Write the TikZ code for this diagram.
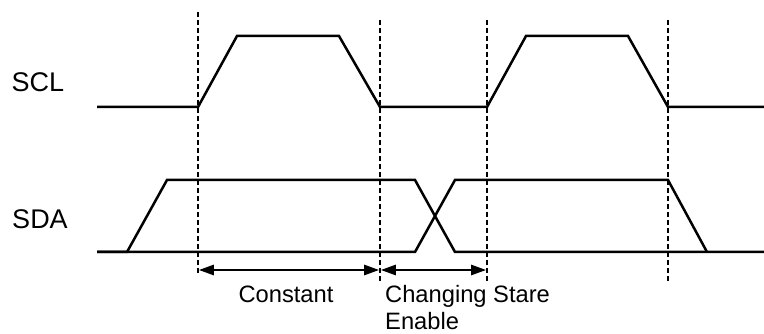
\documentclass[tikz,border=0pt]{standalone}
\usepackage{fontspec}
\setmainfont{Liberation Sans}
\usetikzlibrary{arrows.meta}
\begin{document}
\begin{tikzpicture}[x=1pt,y=-1pt,
  sig/.style={line width=2.5pt,line join=miter},
  guide/.style={line width=1.5pt,dash pattern=on 5pt off 3pt},
  span/.style={line width=2.5pt,{Triangle[length=15pt,width=10pt]}-{Triangle[length=15pt,width=10pt]},shorten <=0.8pt,shorten >=0.8pt},
  siglabel/.style={font=\fontsize{27}{30}\selectfont,anchor=center,inner sep=0pt},
  txt/.style={font=\fontsize{23.7}{26.5}\selectfont,inner sep=0pt}]
\useasboundingbox (0,0) rectangle (764,334);
% guides
\coordinate (g1t) at (198,12);  \coordinate (g1b) at (198,274);
\coordinate (g2t) at (380,20);  \coordinate (g2b) at (380,282);
\coordinate (g3t) at (487,20);  \coordinate (g3b) at (487,282);
\coordinate (g4t) at (668,20);  \coordinate (g4b) at (668,281);
\draw[guide] (g1t) -- (g1b);
\draw[guide] (g2t) -- (g2b);
\draw[guide] (g3t) -- (g3b);
\draw[guide] (g4t) -- (g4b);
% SCL
\coordinate (sclstart) at (97,107);
\coordinate (sclend) at (764,107);
\draw[sig] (sclstart) -- (198,107) -- (237,36) -- (339,36) -- (380,107) -- (487,107) -- (526,36) -- (628,36) -- (668,107) -- (sclend);
% SDA
\coordinate (sdastart) at (97,252);
\coordinate (sdaend) at (764,252);
\draw[sig] (sdastart) -- (127,252) -- (167,180) -- (415,180) -- (455,252) -- (sdaend);
\draw[sig] (97,252) -- (415,252) -- (455,180) -- (668,180) -- (707,252);
% labels
\node[siglabel] (scl) at (38,82) {SCL};
\node[siglabel] (sda) at (40,219) {SDA};
% spans
\coordinate (a1) at (198,270); \coordinate (a2) at (380,270); \coordinate (a3) at (487,270);
\draw[span] (a1) -- (a2);
\draw[span] (a2) -- (a3);
\node[txt,anchor=base] (const) at (286,302) {Constant};
\node[txt,anchor=base west,align=left] (chg) at (385,329) {Changing Stare\\Enable};
\end{tikzpicture}
\end{document}
